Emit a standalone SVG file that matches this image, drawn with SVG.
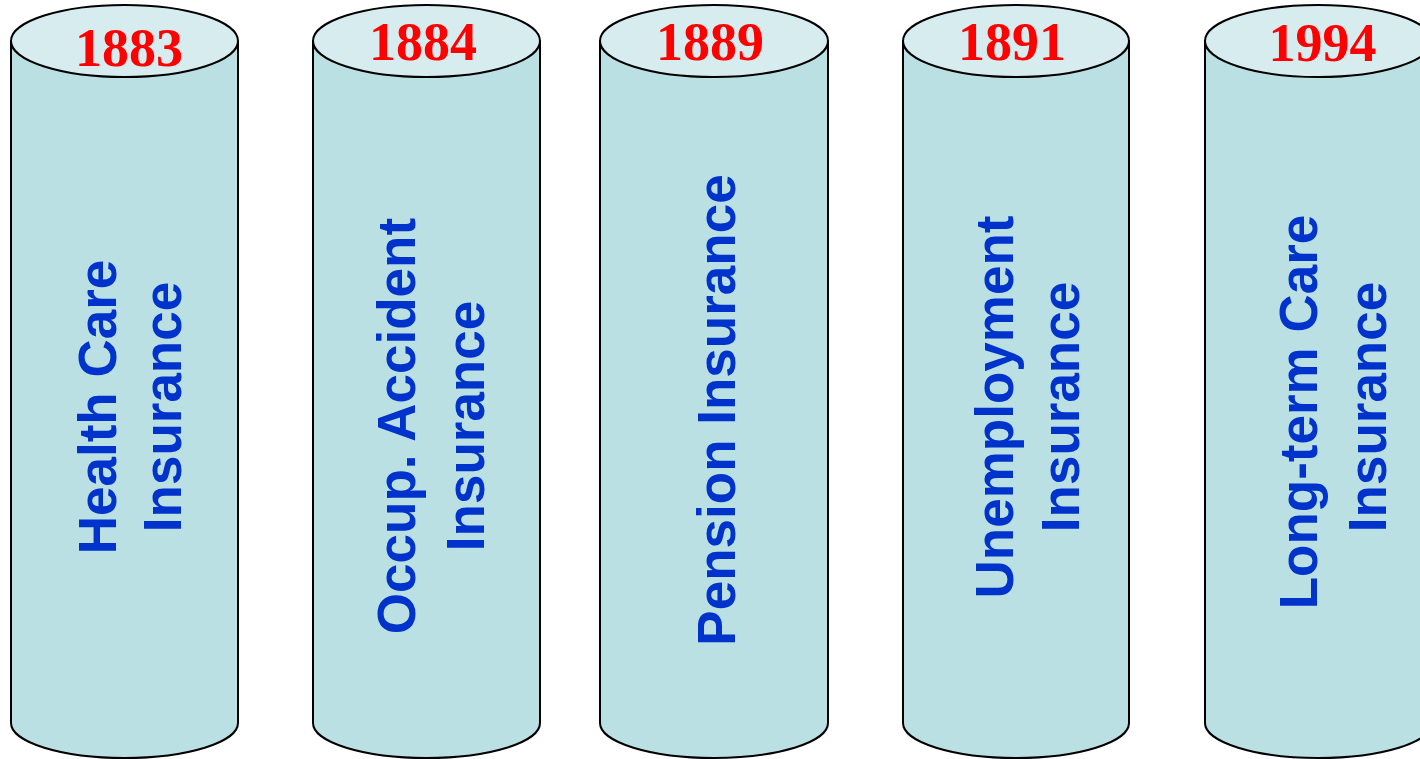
<svg xmlns="http://www.w3.org/2000/svg" width="1420" height="759" viewBox="0 0 1420 759">
<style>
.body{fill:#BBE0E3;stroke:#000;stroke-width:2}
.top{fill:#D7ECEF;stroke:#000;stroke-width:2}
.year{font-family:"Liberation Serif","Times New Roman",serif;font-weight:bold;font-size:54px;fill:#FF0000;text-anchor:middle}
.lbl{font-family:"Liberation Sans",Arial,sans-serif;font-weight:bold;font-size:53px;fill:#0033CC;text-anchor:middle}
</style>
<rect width="1420" height="759" fill="#FFFFFF"/>
<g id="cyl1">
<path class="body" d="M11,41 L11,723 A113.5,35 0 0 0 238,723 L238,41 Z"/>
<ellipse class="top" cx="124.5" cy="41" rx="113.5" ry="36"/>
<text class="year" x="129" y="66">1883</text>
<text class="lbl" transform="translate(116,407) rotate(-90)">Health Care</text>
<text class="lbl" transform="translate(181,407) rotate(-90)">Insurance</text>
</g>
<g id="cyl2">
<path class="body" d="M313,41 L313,723 A113.5,35 0 0 0 540,723 L540,41 Z"/>
<ellipse class="top" cx="426.5" cy="41" rx="113.5" ry="36"/>
<text class="year" x="423" y="60">1884</text>
<text class="lbl" transform="translate(415,426) rotate(-90)">Occup. Accident</text>
<text class="lbl" transform="translate(484,426) rotate(-90)">Insurance</text>
</g>
<g id="cyl3">
<path class="body" d="M600,41 L600,723 A114,35 0 0 0 828,723 L828,41 Z"/>
<ellipse class="top" cx="714" cy="41" rx="114" ry="36"/>
<text class="year" x="710" y="60">1889</text>
<text class="lbl" transform="translate(735,410) rotate(-90)">Pension Insurance</text>
</g>
<g id="cyl4">
<path class="body" d="M903,41 L903,723 A113,35 0 0 0 1129,723 L1129,41 Z"/>
<ellipse class="top" cx="1016" cy="41" rx="113" ry="36"/>
<text class="year" x="1012" y="60">1891</text>
<text class="lbl" transform="translate(1013,407) rotate(-90)">Unemployment</text>
<text class="lbl" transform="translate(1079,407) rotate(-90)">Insurance</text>
</g>
<g id="cyl5">
<path class="body" d="M1205,41 L1205,723 A113.5,35 0 0 0 1432,723 L1432,41 Z"/>
<ellipse class="top" cx="1318.5" cy="41" rx="113.5" ry="36"/>
<text class="year" x="1322.5" y="61">1994</text>
<text class="lbl" transform="translate(1317,412) rotate(-90)">Long-term Care</text>
<text class="lbl" transform="translate(1386,407) rotate(-90)">Insurance</text>
</g>
<g id="connectors"/>
</svg>
